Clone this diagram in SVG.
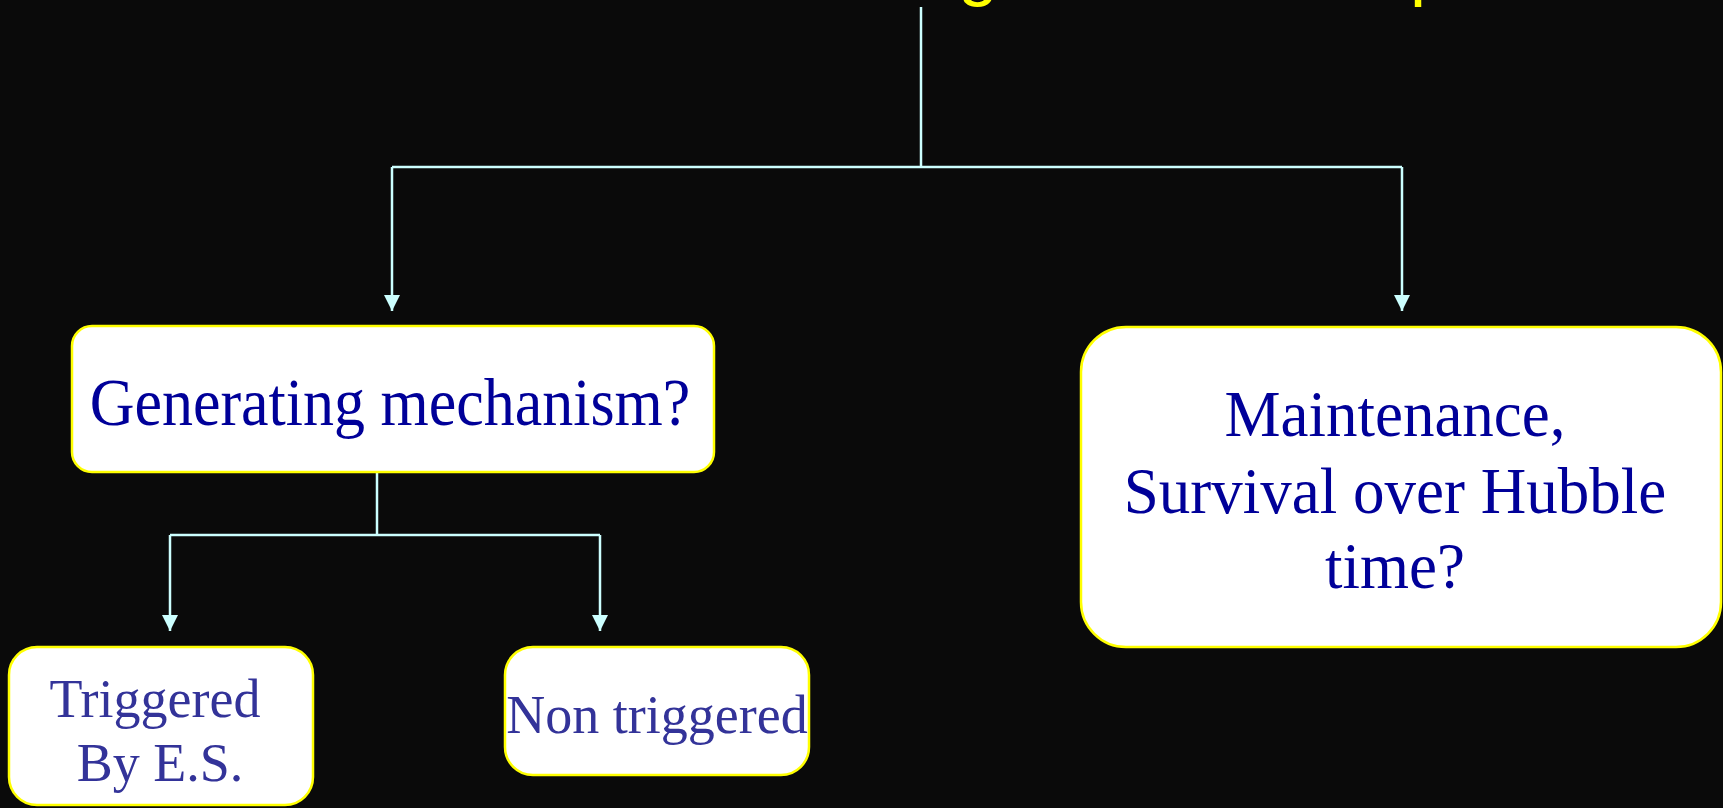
<svg xmlns="http://www.w3.org/2000/svg" width="1723" height="808" viewBox="0 0 1723 808">
  <style>
    .box { fill: #ffffff; stroke: #ffff00; stroke-width: 2.5; }
    .conn { fill: none; stroke: #ccffff; stroke-width: 2.5; }
    .big { font-family: "Liberation Serif", "Times New Roman", serif; fill: #000099; text-anchor: middle; }
    .small { font-family: "Liberation Serif", "Times New Roman", serif; fill: #333399; text-anchor: middle; font-size: 54px; }
    .title { font-family: "Liberation Sans", Arial, sans-serif; fill: #ffff00; font-size: 72px; }
  </style>
  <defs>
    <marker id="arrow" markerUnits="userSpaceOnUse" markerWidth="16" markerHeight="16" refX="16" refY="8" orient="auto">
      <path d="M0,0 L16,8 L0,16 z" fill="#ccffff"/>
    </marker>
  </defs>
  <rect x="0" y="0" width="1723" height="808" fill="#0a0a0a"/>
  <g id="title">
    <text class="title" x="958" y="-8">g</text>
    <text class="title" x="1410" y="-8">p</text>
  </g>
  <g id="connectors">
    <path class="conn" d="M921,7 V167"/>
    <path class="conn" d="M392,167 H1402"/>
    <path class="conn" d="M392,167 V311" marker-end="url(#arrow)"/>
    <path class="conn" d="M1402,167 V311" marker-end="url(#arrow)"/>
    <path class="conn" d="M377,472 V535"/>
    <path class="conn" d="M170,535 H600"/>
    <path class="conn" d="M170,535 V631" marker-end="url(#arrow)"/>
    <path class="conn" d="M600,535 V631" marker-end="url(#arrow)"/>
  </g>
  <g id="generating">
    <rect class="box" x="72" y="326" width="642" height="146" rx="20" ry="20"/>
    <text class="big" transform="translate(390,425) scale(1,1.08)" x="0" y="0" font-size="62">Generating mechanism?</text>
  </g>
  <g id="maintenance">
    <rect class="box" x="1081" y="327" width="640" height="320" rx="45" ry="45"/>
    <text class="big" transform="translate(1395,436) scale(1,1.04)" x="0" y="0" font-size="63">Maintenance,</text>
    <text class="big" transform="translate(1395,513) scale(1,1.04)" x="0" y="0" font-size="63">Survival over Hubble</text>
    <text class="big" transform="translate(1395,588) scale(1,1.04)" x="0" y="0" font-size="63">time?</text>
  </g>
  <g id="triggered">
    <rect class="box" x="9" y="647" width="304" height="158" rx="28" ry="28"/>
    <text class="small" x="155" y="717">Triggered</text>
    <text class="small" x="160" y="781">By E.S.</text>
  </g>
  <g id="nontriggered">
    <rect class="box" x="505" y="647" width="304" height="128" rx="28" ry="28"/>
    <text class="small" x="657" y="733">Non triggered</text>
  </g>
</svg>
